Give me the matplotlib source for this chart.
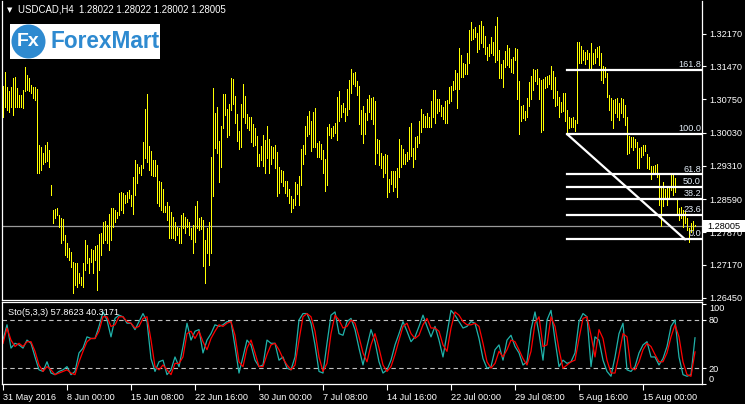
import numpy as np
import matplotlib.pyplot as plt
from matplotlib.patches import Rectangle, Ellipse
from matplotlib.transforms import blended_transform_factory

plt.rcParams['font.family'] = ['Liberation Sans', 'DejaVu Sans']

# USDCAD H4 bars (high / low), one per 4h bar
high = [1.3104, 1.3135, 1.3102, 1.3092, 1.3101, 1.3121, 1.3124, 1.3099, 1.3084, 1.3084,
        1.3095, 1.3144, 1.3128, 1.3121, 1.3106, 1.3102, 1.3102, 1.3097, 1.2976, 1.2972,
        1.2958, 1.2976, 1.2983, 1.2965, 1.2890, 1.2835, 1.2837, 1.2839, 1.2825, 1.2817,
        1.2816, 1.2781, 1.2763, 1.2752, 1.2745, 1.2723, 1.2720, 1.2720, 1.2698, 1.2691,
        1.2720, 1.2770, 1.2760, 1.2731, 1.2750, 1.2749, 1.2757, 1.2760, 1.2783, 1.2785,
        1.2810, 1.2812, 1.2803, 1.2827, 1.2839, 1.2839, 1.2835, 1.2832, 1.2873, 1.2875,
        1.2873, 1.2868, 1.2875, 1.2879, 1.2868, 1.2907, 1.2944, 1.2936, 1.2929, 1.2933,
        1.2983, 1.3053, 1.3087, 1.2974, 1.2962, 1.2944, 1.2944, 1.2933, 1.2899, 1.2897,
        1.2880, 1.2843, 1.2853, 1.2843, 1.2832, 1.2821, 1.2810, 1.2798, 1.2796, 1.2825,
        1.2828, 1.2820, 1.2815, 1.2809, 1.2796, 1.2803, 1.2844, 1.2855, 1.2817, 1.2820,
        1.2814, 1.2770, 1.2797, 1.2809, 1.2951, 1.3099, 1.3046, 1.3059, 1.2985, 1.3017,
        1.3087, 1.3087, 1.3054, 1.3064, 1.3121, 1.3118, 1.3082, 1.3043, 1.3007, 1.3065,
        1.3108, 1.3082, 1.3043, 1.3037, 1.3036, 1.3022, 1.3012, 1.2996, 1.2957, 1.2974,
        1.2998, 1.2987, 1.3017, 1.2989, 1.2974, 1.2971, 1.2976, 1.2960, 1.2929, 1.2922,
        1.2920, 1.2899, 1.2899, 1.2880, 1.2866, 1.2859, 1.2895, 1.2892, 1.2909, 1.2967,
        1.2976, 1.3017, 1.3039, 1.3050, 1.3027, 1.3048, 1.3056, 1.2981, 1.2985, 1.2978,
        1.2965, 1.2945, 1.3016, 1.3022, 1.3012, 1.3017, 1.3023, 1.3079, 1.3092, 1.3063,
        1.3066, 1.3056, 1.3098, 1.3117, 1.3140, 1.3133, 1.3134, 1.3115, 1.3104, 1.3052,
        1.3061, 1.3045, 1.3075, 1.3084, 1.3077, 1.3079, 1.3072, 1.2988, 1.2987, 1.2958,
        1.2952, 1.2957, 1.2954, 1.2902, 1.2920, 1.2920, 1.2920, 1.2926, 1.2988, 1.2976,
        1.2967, 1.2957, 1.2961, 1.3016, 1.3023, 1.2969, 1.2994, 1.2996, 1.3027, 1.3053,
        1.3043, 1.3039, 1.3045, 1.3037, 1.3072, 1.3095, 1.3095, 1.3075, 1.3075, 1.3063,
        1.3058, 1.3072, 1.3074, 1.3101, 1.3104, 1.3115, 1.3138, 1.3131, 1.3185, 1.3171,
        1.3153, 1.3151, 1.3175, 1.3224, 1.3242, 1.3227, 1.3231, 1.3219, 1.3236, 1.3245,
        1.3234, 1.3211, 1.3189, 1.3195, 1.3209, 1.3199, 1.3234, 1.3254, 1.3182, 1.3151,
        1.3159, 1.3180, 1.3193, 1.3185, 1.3162, 1.3166, 1.3185, 1.3183, 1.3115, 1.3061,
        1.3063, 1.3050, 1.3077, 1.3113, 1.3126, 1.3140, 1.3138, 1.3140, 1.3121, 1.3117,
        1.3118, 1.3123, 1.3126, 1.3128, 1.3147, 1.3137, 1.3124, 1.3092, 1.3079, 1.3070,
        1.3088, 1.3088, 1.3052, 1.3036, 1.3034, 1.3036, 1.3030, 1.3200, 1.3198, 1.3190,
        1.3182, 1.3178, 1.3182, 1.3176, 1.3196, 1.3176, 1.3183, 1.3188, 1.3190, 1.3176,
        1.3147, 1.3146, 1.3133, 1.3084, 1.3077, 1.3074, 1.3075, 1.3077, 1.3068, 1.3077,
        1.3075, 1.3063, 1.3036, 1.2996, 1.2994, 1.2993, 1.2988, 1.2983, 1.2969, 1.2972,
        1.2976, 1.2976, 1.2957, 1.2951, 1.2931, 1.2931, 1.2933, 1.2935, 1.2916, 1.2887,
        1.2895, 1.2880, 1.2886, 1.2887, 1.2916, 1.2911, 1.2904, 1.2856, 1.2839, 1.2841,
        1.2835, 1.2832, 1.2817, 1.2796, 1.2807, 1.2812, 1.28022]
low = [1.3037, 1.3059, 1.3052, 1.3048, 1.3059, 1.3041, 1.3059, 1.3059, 1.3059, 1.3059,
       1.3056, 1.3092, 1.3095, 1.3092, 1.3088, 1.3077, 1.3074, 1.2915, 1.2916, 1.2922,
       1.2936, 1.2940, 1.2942, 1.2929, 1.2868, 1.2807, 1.2817, 1.2825, 1.2799, 1.2763,
       1.2770, 1.2738, 1.2734, 1.2727, 1.2713, 1.2655, 1.2673, 1.2669, 1.2677, 1.2673,
       1.2669, 1.2705, 1.2720, 1.2698, 1.2723, 1.2698, 1.2727, 1.2662, 1.2705, 1.2738,
       1.2763, 1.2770, 1.2763, 1.2749, 1.2770, 1.2799, 1.2810, 1.2817, 1.2825, 1.2835,
       1.2828, 1.2850, 1.2853, 1.2861, 1.2843, 1.2827, 1.2868, 1.2893, 1.2915, 1.2911,
       1.2926, 1.2947, 1.2940, 1.2922, 1.2911, 1.2909, 1.2909, 1.2851, 1.2843, 1.2835,
       1.2832, 1.2832, 1.2814, 1.2774, 1.2774, 1.2774, 1.2770, 1.2781, 1.2763, 1.2763,
       1.2796, 1.2786, 1.2799, 1.2781, 1.2772, 1.2743, 1.2767, 1.2796, 1.2792, 1.2795,
       1.2714, 1.2678, 1.2742, 1.2716, 1.2742, 1.2866, 1.2969, 1.2958, 1.2897, 1.2929,
       1.3012, 1.3041, 1.2994, 1.2998, 1.3052, 1.3065, 1.3024, 1.2985, 1.2967, 1.2972,
       1.3036, 1.3023, 1.3012, 1.3009, 1.2983, 1.2974, 1.2976, 1.2931, 1.2931, 1.2944,
       1.2931, 1.2915, 1.2947, 1.2915, 1.2936, 1.2947, 1.2926, 1.2866, 1.2873, 1.2895,
       1.2887, 1.2872, 1.2866, 1.2851, 1.2832, 1.2839, 1.2846, 1.2870, 1.2846, 1.2890,
       1.2935, 1.2957, 1.2996, 1.3000, 1.2964, 1.2971, 1.2972, 1.2951, 1.2951, 1.2945,
       1.2916, 1.2877, 1.2890, 1.2998, 1.2991, 1.2996, 1.3001, 1.2987, 1.3027, 1.3037,
       1.3048, 1.3029, 1.3041, 1.3053, 1.3089, 1.3108, 1.3104, 1.3084, 1.3022, 1.3000,
       1.2981, 1.3000, 1.3030, 1.3048, 1.3032, 1.3022, 1.2935, 1.2959, 1.2933, 1.2926,
       1.2906, 1.2916, 1.2863, 1.2875, 1.2892, 1.2877, 1.2886, 1.2863, 1.2906, 1.2928,
       1.2935, 1.2935, 1.2942, 1.2945, 1.2952, 1.2928, 1.2945, 1.2972, 1.2981, 1.3005,
       1.3014, 1.3016, 1.3016, 1.3014, 1.3014, 1.3037, 1.3024, 1.3046, 1.3050, 1.3039,
       1.3032, 1.3024, 1.3024, 1.3066, 1.3072, 1.3095, 1.3097, 1.3056, 1.3097, 1.3124,
       1.3123, 1.3130, 1.3130, 1.3153, 1.3203, 1.3205, 1.3209, 1.3178, 1.3183, 1.3196,
       1.3188, 1.3173, 1.3159, 1.3169, 1.3175, 1.3171, 1.3156, 1.3159, 1.3122, 1.3122,
       1.3101, 1.3144, 1.3149, 1.3144, 1.3135, 1.3131, 1.3159, 1.3075, 1.3000, 1.3029,
       1.3034, 1.3030, 1.3037, 1.3061, 1.3075, 1.3095, 1.3115, 1.3108, 1.3075, 1.3005,
       1.3009, 1.3099, 1.3101, 1.3108, 1.3097, 1.3077, 1.3061, 1.3063, 1.3037, 1.3048,
       1.3050, 1.3027, 1.3001, 1.3012, 1.3016, 1.3014, 1.3007, 1.3023, 1.3153, 1.3154,
       1.3160, 1.3151, 1.3162, 1.3138, 1.3138, 1.3151, 1.3153, 1.3167, 1.3149, 1.3117,
       1.3111, 1.3124, 1.3081, 1.3052, 1.3030, 1.3012, 1.3045, 1.3037, 1.3030, 1.3045,
       1.3037, 1.3019, 1.2957, 1.2959, 1.2972, 1.2965, 1.2971, 1.2926, 1.2926, 1.2951,
       1.2954, 1.2962, 1.2926, 1.2924, 1.2902, 1.2913, 1.2915, 1.2906, 1.2846, 1.2801,
       1.2843, 1.2861, 1.2846, 1.2863, 1.2879, 1.2868, 1.2875, 1.2827, 1.2814, 1.2817,
       1.2799, 1.2807, 1.2792, 1.2765, 1.2788, 1.2792, 1.28002]
bars = np.arange(len(high))

# Stochastic(5,3,3): main (%K) and signal (%D), read every 2 bars
sto_bar = list(range(0, 347, 2))
sto_k = [55, 74, 45, 51, 49, 45, 55, 51, 34, 18, 16, 28, 14, 12, 16, 18, 22, 12, 16, 39,
         45, 59, 57, 57, 72, 90, 80, 59, 82, 86, 84, 76, 76, 68, 78, 88, 78, 32, 16, 28,
         30, 12, 18, 34, 22, 47, 76, 55, 66, 68, 39, 55, 63, 74, 72, 74, 78, 78, 47, 14,
         34, 55,
         49, 30, 22, 24, 55, 51, 51, 30, 34, 20, 18, 34, 80, 88, 88, 76, 49, 16, 14, 51,
         86, 90, 63, 61, 78, 82, 68, 45, 24, 47, 68, 53, 28, 14, 18, 30, 49, 63, 78, 66,
         53, 59, 72, 86, 72, 59, 72, 55, 34, 63, 92, 86, 78, 70, 72, 78, 76, 57, 32, 20,
         22, 43, 49,
         30, 55, 61, 47, 39, 24, 28, 68, 90, 63, 30, 80, 92, 55, 22, 30, 26, 28, 39, 78,
         88, 84, 22, 59, 55, 30, 16, 10, 34, 63, 76, 18, 16, 22, 39, 49, 53, 34, 34, 24,
         32, 47, 72, 80, 34, 12, 10, 12, 57.8623]
sto_d = [51, 70, 55, 47, 51, 47, 53, 53, 41, 24, 16, 22, 18, 12, 14, 16, 18, 14, 12, 28,
         41, 53, 57, 57, 66, 84, 84, 72, 74, 84, 84, 78, 76, 70, 72, 82, 84, 55, 22, 18,
         24, 18, 12, 26, 26, 34, 63, 66, 57, 66, 53, 43, 57, 66, 74, 72, 76, 78, 61, 28,
         22, 45,
         55, 39, 22, 22, 37, 49, 51, 43, 32, 24, 18, 24, 55, 84, 88, 84, 66, 34, 16, 26,
         63, 86, 80, 70, 72, 80, 76, 59, 39, 28, 49, 63, 45, 24, 16, 22, 37, 55, 72, 76,
         63, 57, 61, 74, 82, 70, 70, 66, 49, 41, 70, 90, 86, 78, 74, 74, 76, 72, 51, 28,
         20, 26, 41,
         34, 43, 55, 53, 43, 32, 24, 41, 76, 84, 47, 49, 84, 72, 43, 20, 24, 28, 30, 57,
         82, 84, 61, 34, 68, 57, 30, 14, 14, 37, 63, 59, 20, 18, 28, 43, 51, 47, 37, 28,
         28, 39, 59, 74, 59, 28, 12, 10, 40.3171]

# Fibonacci retracement anchors
fib_low, fib_high = 1.2772, 1.2999
fib_start, fib_end = 282, 341
fib_ratios = [0.0, 0.236, 0.382, 0.5, 0.618, 1.0, 1.618]

price_ticks = [1.26450, 1.27170, 1.27870, 1.28590, 1.29310,
               1.30030, 1.30750, 1.31470, 1.32170]
time_ticks = [0, 32, 64, 96, 128, 160, 192, 224, 256, 288, 320]
time_labels = ['31 May 2016', '8 Jun 00:00', '15 Jun 08:00', '22 Jun 16:00',
               '30 Jun 00:00', '7 Jul 08:00', '14 Jul 16:00', '22 Jul 00:00',
               '29 Jul 08:00', '5 Aug 16:00', '15 Aug 00:00']
last_price = 1.28005

W, H = 745, 404
fs = 6.6
fig = plt.figure(figsize=(W / 100, H / 100), dpi=100, facecolor='black')
ax = fig.add_axes([2 / W, 104 / H, 700 / W, 299 / H])
ax2 = fig.add_axes([2 / W, 19.7 / H, 700 / W, 82 / H])

for a in (ax, ax2):
    a.set_facecolor('black')
    a.set_xlim(-0.5, 349.5)
    for s in a.spines.values():
        s.set_color('white')
        s.set_linewidth(0.9)
ax.spines['top'].set_visible(False)

# price panel
ax.vlines(bars, low, high, color='#ffff00', lw=0.72, antialiased=False)
ax.axhline(last_price, color='#9a9a9a', lw=0.9, zorder=1)
ax.set_ylim(1.26405, 1.32878)
ax.set_xticks([])
ax.yaxis.tick_right()
ax.set_yticks(price_ticks)
ax.set_yticklabels([f'{p:.5f}' for p in price_ticks])
ax.tick_params(axis='y', colors='white', length=3, width=0.8, labelsize=fs, pad=2)

for r in fib_ratios:
    lvl = fib_low + r * (fib_high - fib_low)
    ax.plot([fib_start + 0.2, 349.5], [lvl, lvl], color='white', lw=1.6, zorder=3)
    ax.text(349.0, lvl + 0.0002, f'{r * 100:.1f}', color='#e4eef8', fontsize=fs,
            ha='right', va='bottom', zorder=4)
ax.plot([fib_start + 0.2, fib_end], [fib_high, fib_low], color='white', lw=1.6, zorder=3)

# current price label
bt = blended_transform_factory(fig.transFigure, ax.transData)
box_h = 12 * (1.32878 - 1.26405) / 299
fig.add_artist(Rectangle((703 / W, last_price - box_h / 2), 42 / W, box_h,
                         transform=bt, facecolor='white', edgecolor='none', zorder=5))
fig.text(707 / W, last_price, f'{last_price:.5f}', transform=bt, color='black',
         fontsize=fs, va='center', ha='left', zorder=6)

# header and logo
fig.text(18 / W, 1 - 10 / H, 'USDCAD,H4  1.28022 1.28022 1.28002 1.28005',
         color='white', fontsize=6.9, va='center')
fig.text(7 / W, 1 - 10.5 / H, '▼', color='white', fontsize=5, va='center',
         family='DejaVu Sans')
fig.add_artist(Rectangle((10 / W, 1 - 59 / H), 150 / W, 35 / H,
                         transform=fig.transFigure, facecolor='white',
                         edgecolor='none', zorder=5))
fig.add_artist(Ellipse((28.5 / W, 1 - 41.5 / H), 34 / W, 34 / H,
                       transform=fig.transFigure, facecolor='#2e8ad0',
                       edgecolor='none', zorder=6))
fig.text(28.5 / W, 1 - 42 / H, 'Fx', color='white', fontsize=14, fontweight='bold',
         ha='center', va='center', zorder=7)
fig.text(50 / W, 1 - 41 / H, 'ForexMart', color='#2e8ad0', fontsize=16.3,
         fontweight='bold', ha='left', va='center', zorder=7)

# stochastic panel
ax2.set_ylim(0, 102)
ax2.axhline(80, color='#c0c0c0', lw=0.8, ls=(0, (4, 3)))
ax2.axhline(20, color='#c0c0c0', lw=0.8, ls=(0, (4, 3)))
ax2.plot(sto_bar, sto_k, color='#20b2aa', lw=0.9)
ax2.plot(sto_bar, sto_d, color='#ff0000', lw=0.9)
ax2.text(6 / 700, 0.87, 'Sto(5,3,3) 57.8623 40.3171', transform=ax2.transAxes,
         color='white', fontsize=fs, va='center')
ax2.yaxis.tick_right()
ax2.set_yticks([0, 20, 80, 100])
ax2.set_yticklabels(['0', '20', '80', '100'])
ax2.tick_params(axis='y', colors='white', length=3, width=0.8, labelsize=fs, pad=2)
ylabs = ax2.get_yticklabels()
ylabs[0].set_va('bottom')
ylabs[3].set_va('top')
ax2.set_xticks(time_ticks)
ax2.set_xticklabels(time_labels, ha='left')
ax2.tick_params(axis='x', colors='white', length=4, width=0.8, labelsize=fs, pad=2)

fig.savefig('out.png', dpi=100, facecolor='black')
